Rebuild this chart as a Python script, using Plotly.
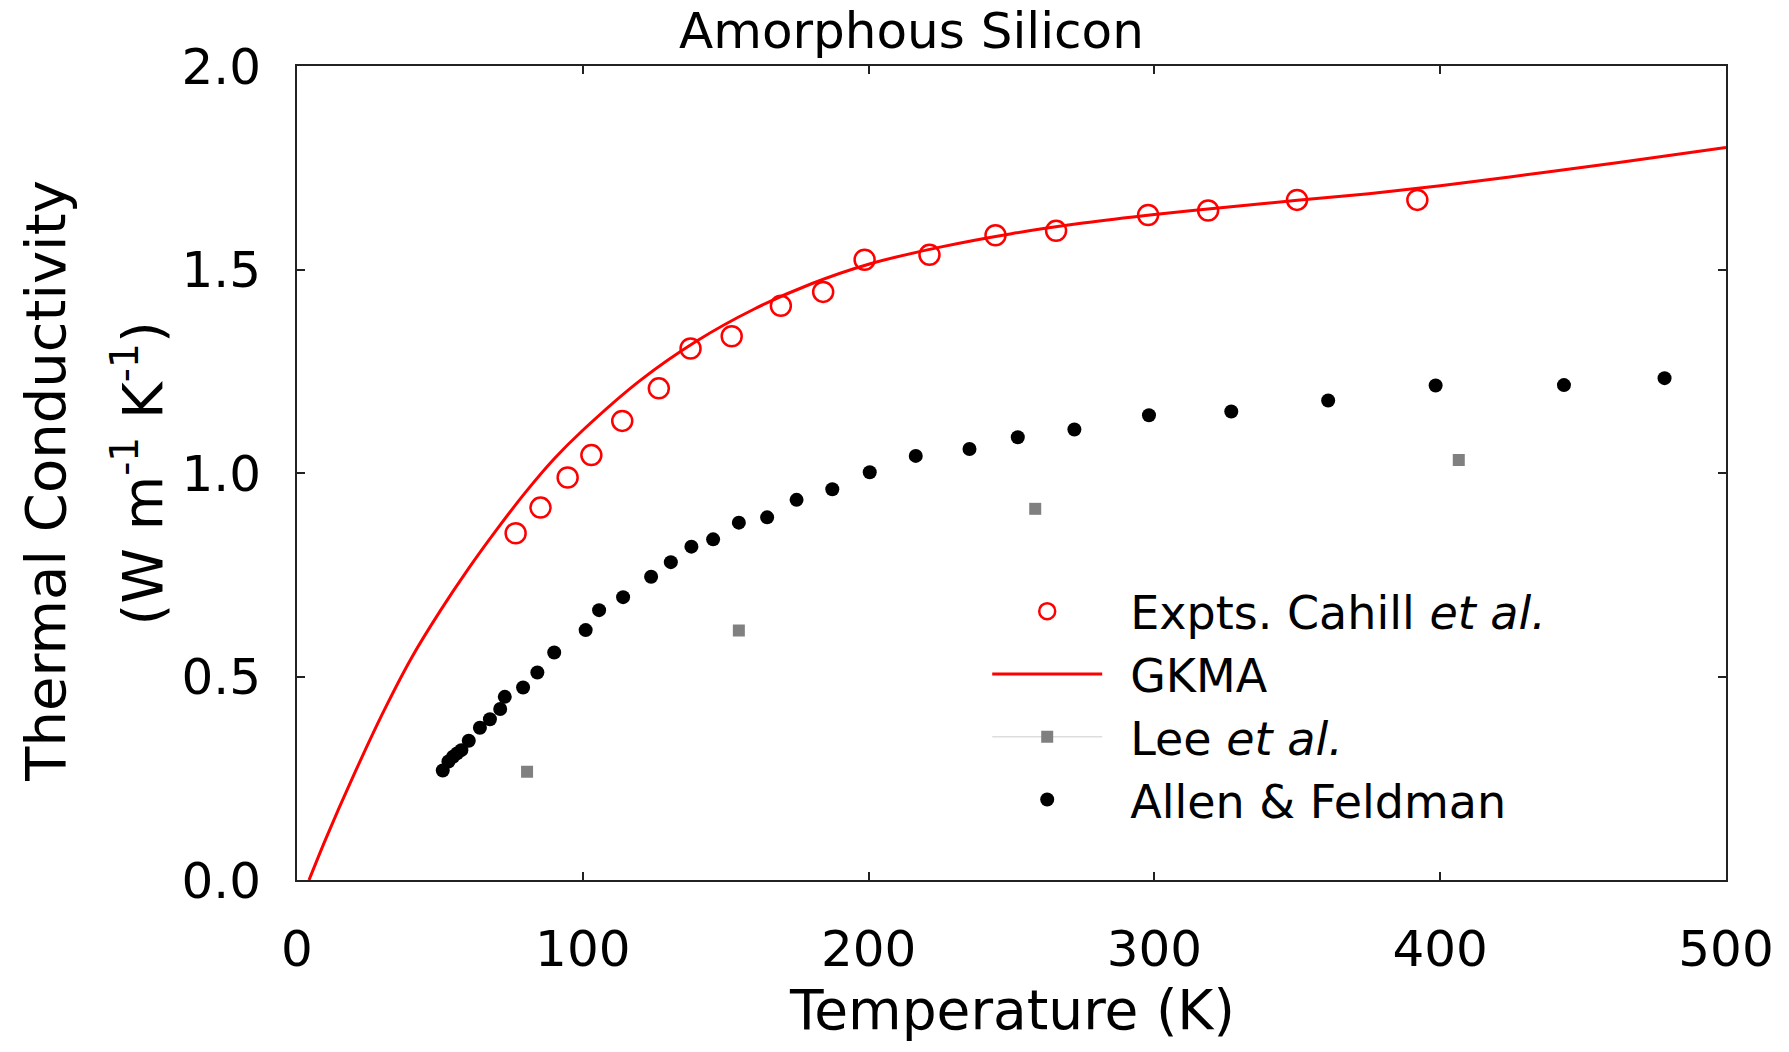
import plotly.graph_objects as go

# Experimental data (Cahill et al.)
cahill_T = [76.5, 85.2, 94.7, 103.0, 113.8, 126.6, 137.7, 152.1, 169.3, 184.1,
            198.6, 221.3, 244.4, 265.6, 297.8, 318.8, 349.9, 392.0]
cahill_k = [0.852, 0.915, 0.989, 1.044, 1.128, 1.208, 1.306, 1.336, 1.411, 1.445,
            1.524, 1.536, 1.584, 1.595, 1.634, 1.645, 1.671, 1.671]

# GKMA prediction
gkma_T = [4.2, 10, 20, 30, 40, 50, 60, 70, 80, 90, 100, 120, 140, 160, 180, 200,
          225, 250, 275, 300, 325, 350, 375, 400, 425, 450, 475, 500]
gkma_k = [0.0, 0.100, 0.260, 0.410, 0.545, 0.660, 0.765, 0.862, 0.953, 1.035,
          1.105, 1.227, 1.325, 1.403, 1.465, 1.513, 1.555, 1.588, 1.614, 1.635,
          1.653, 1.670, 1.686, 1.706, 1.728, 1.751, 1.775, 1.800]

# Lee et al.
lee_T = [80.5, 154.6, 258.3, 406.5]
lee_k = [0.266, 0.613, 0.912, 1.032]

# Allen & Feldman
af_T = [51.0, 53.0, 54.6, 56.0, 57.5, 60.1, 64.0, 67.5, 71.1, 72.7, 79.1, 84.1,
        90.0, 101.0, 105.7, 114.1, 123.9, 130.8, 138.0, 145.6, 154.6, 164.5,
        174.8, 187.3, 200.4, 216.5, 235.3, 252.2, 272.0, 298.1, 326.9, 360.8,
        398.4, 443.3, 478.5]
af_k = [0.269, 0.291, 0.303, 0.311, 0.319, 0.342, 0.374, 0.395, 0.420, 0.450,
        0.473, 0.510, 0.559, 0.614, 0.663, 0.695, 0.745, 0.781, 0.819, 0.837,
        0.878, 0.891, 0.934, 0.960, 1.002, 1.042, 1.059, 1.088, 1.107, 1.142,
        1.151, 1.178, 1.215, 1.216, 1.233]

x_ticks = [0, 100, 200, 300, 400, 500]
y_ticks = [0.0, 0.5, 1.0, 1.5, 2.0]
y_ticktext = ["0.0", "0.5", "1.0", "1.5", "2.0"]

FONT = "DejaVu Sans"
GAP = "\u2002"  # spacing between legend symbol and label

fig = go.Figure()

fig.add_trace(go.Scatter(
    x=cahill_T, y=cahill_k, mode="markers", name=GAP + "Expts. Cahill <i>et al.</i>",
    marker=dict(symbol="circle-open", size=20, color="#ff0000",
                line=dict(width=2.5, color="#ff0000")),
))
fig.add_trace(go.Scatter(
    x=gkma_T, y=gkma_k, mode="lines", name=GAP + "GKMA",
    line=dict(color="#ff0000", width=3, shape="spline", smoothing=0.8),
))
# Lee et al.: squares only on the plot, legend entry shows a faint line through the marker
fig.add_trace(go.Scatter(
    x=lee_T, y=lee_k, mode="markers", name="Lee et al.", showlegend=False,
    marker=dict(symbol="square", size=12, color="#808080"),
))
fig.add_trace(go.Scatter(
    x=[None], y=[None], mode="lines+markers", name=GAP + "Lee <i>et al.</i>",
    marker=dict(symbol="square", size=12, color="#808080"),
    line=dict(color="#dddddd", width=1.5),
))
fig.add_trace(go.Scatter(
    x=af_T, y=af_k, mode="markers", name=GAP + "Allen &amp; Feldman",
    marker=dict(symbol="circle", size=14, color="#000000"),
))

axis_common = dict(
    showline=True, linecolor="#222222", linewidth=2, mirror="ticks",
    ticks="inside", ticklen=8, tickwidth=1.5, tickcolor="#222222",
    showgrid=False, zeroline=False,
    tickfont=dict(family=FONT, size=50, color="#000000"),
)

fig.update_layout(
    width=1789, height=1052,
    margin=dict(l=297, r=63, t=66, b=172),
    paper_bgcolor="white", plot_bgcolor="white",
    font=dict(family=FONT, color="#000000"),
    showlegend=True,
    legend=dict(
        x=0.483, y=0.375, xanchor="left", yanchor="top",
        bgcolor="rgba(0,0,0,0)", borderwidth=0,
        font=dict(family=FONT, size=46, color="#000000"),
        itemwidth=110, tracegroupgap=0,
    ),
    xaxis=dict(range=[0, 500], tickvals=x_ticks, ticklabelstandoff=24, **axis_common),
    yaxis=dict(range=[0, 2], tickvals=y_ticks, ticktext=y_ticktext,
               ticklabelstandoff=24, **axis_common),
    annotations=[
        dict(text="Amorphous Silicon", xref="paper", yref="paper", x=0.43, y=1.0,
             xanchor="center", yanchor="bottom", yshift=4, showarrow=False,
             font=dict(family=FONT, size=50, color="#000000")),
        dict(text="Temperature (K)", xref="paper", yref="paper", x=0.5, y=-0.16,
             xanchor="center", yanchor="middle", showarrow=False,
             font=dict(family=FONT, size=55, color="#000000")),
        dict(text="Thermal Conductivity", xref="paper", yref="paper", x=-0.176, y=0.49,
             xanchor="center", yanchor="middle", textangle=-90, showarrow=False,
             font=dict(family=FONT, size=56, color="#000000")),
        dict(text="(W m<sup>-1</sup> K<sup>-1</sup>)", xref="paper", yref="paper",
             x=-0.111, y=0.5, xanchor="center", yanchor="middle", textangle=-90,
             showarrow=False, font=dict(family=FONT, size=56, color="#000000")),
    ],
)

fig.write_html("out.html")
